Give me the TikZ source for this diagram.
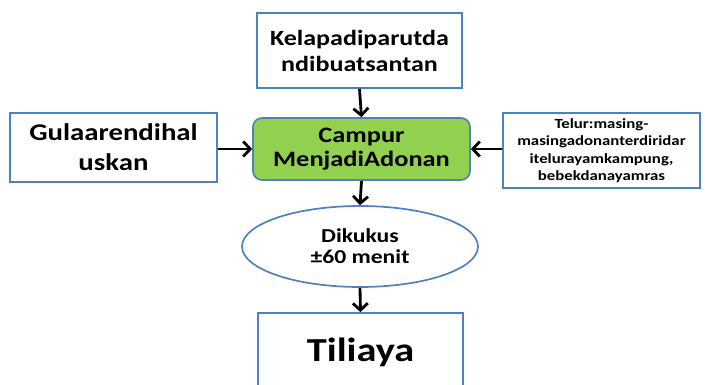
\documentclass[tikz,border=0pt]{standalone}
\usepackage{fontspec}
\setmainfont{Carlito}[FakeStretch=1.2]
\usetikzlibrary{arrows.meta,shapes.geometric}
\definecolor{boxblue}{HTML}{4F81BD}
\definecolor{boxgreen}{HTML}{92D050}
\begin{document}
\begin{tikzpicture}[x=1pt,y=1pt,
  box/.style={draw=boxblue,line width=1.7pt,fill=white,rectangle,align=center,font=\bfseries,inner sep=0pt},
  conn/.style={line width=2.8pt,-{Straight Barb[length=7pt,width=15pt,line width=2.8pt]}}]
\clip (0,0) rectangle (705,-385);
\fill[white] (0,0) rectangle (705,-385);
\node[box,minimum width=205pt,minimum height=75pt,font=\bfseries\fontsize{21.7}{26}\selectfont] (kelapa) at (359.5,-50.5) {Kelapadiparutda\\ndibuatsantan};
\node[box,minimum width=207pt,minimum height=69pt,font=\bfseries\fontsize{24}{30}\selectfont] (gula) at (113.5,-147.5) {Gulaarendihal\\uskan};
\node[box,minimum width=197pt,minimum height=75pt,font=\bfseries\fontsize{14}{17.5}\selectfont] (telur) at (601.5,-150.5) {Telur:masing-\\masingadonanterdiridar\\itelurayamkampung,\\bebekdanayamras};
\node[box,fill=boxgreen,rounded corners=9pt,minimum width=217pt,minimum height=62pt,font=\bfseries\fontsize{22}{24}\selectfont] (campur) at (361.5,-149) {Campur\\MenjadiAdonan};
\node[box,ellipse,minimum width=236pt,minimum height=81pt,font=\bfseries\fontsize{19.7}{21}\selectfont] (kukus) at (360,-246.5) {Dikukus\\±60 menit};
\node[box,minimum width=205pt,minimum height=78pt,font=\bfseries\fontsize{33.6}{38}\selectfont] (tiliaya) at (360.5,-352) {Tiliaya};
\draw[conn] (kelapa.south) -- (campur.north);
\draw[conn] (gula.east |- campur.west) -- (campur.west);
\draw[conn] (telur.west |- campur.east) -- (campur.east);
\draw[conn] (campur.south) -- (kukus.north);
\draw[conn] (kukus.south) -- (tiliaya.north);
\end{tikzpicture}
\end{document}
